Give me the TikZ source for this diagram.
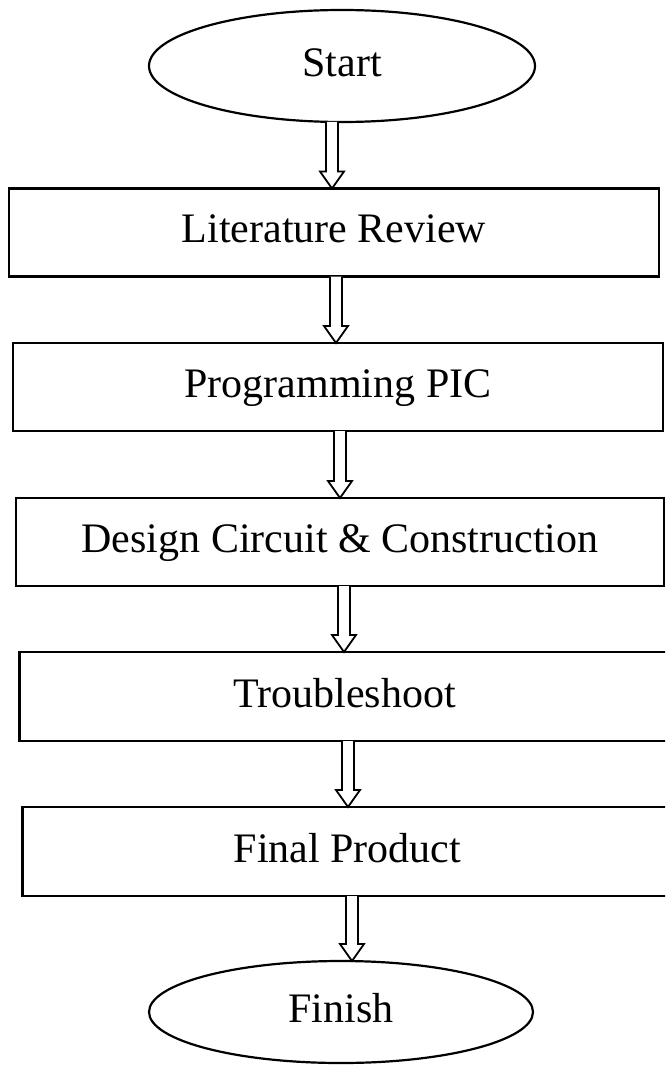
\documentclass[tikz,border=0pt]{standalone}
\usepackage{fontspec}
\setmainfont{Liberation Serif}
\usetikzlibrary{shapes.geometric,calc}
\tikzset{
  lbl/.style={font=\fontsize{42}{50}\selectfont, text height=29pt, text depth=8pt, inner sep=0pt, outer sep=0pt},
  stepbox/.style={lbl, draw, line width=2.2pt, rectangle, minimum height=88pt},
  terminal/.style={lbl, draw, line width=2.2pt, ellipse},
  blockarrow/.style={draw, line width=1.8pt, line join=miter, fill=white}
}
\newcommand\hollowarrow[3]{%
  \draw[blockarrow] let \p1=(#1.south), \p2=(#2.north) in
    ({#3pt-6pt},{\y1}) -- ({#3pt-6pt},{\y2+17pt}) -- ({#3pt-12pt},{\y2+17pt}) --
    ({#3pt},{\y2}) -- ({#3pt+12pt},{\y2+17pt}) -- ({#3pt+6pt},{\y2+17pt}) -- ({#3pt+6pt},{\y1});
}
\begin{document}
\begin{tikzpicture}[x=1pt,y=-1pt]
  \useasboundingbox (0,0) rectangle (665,1067);
  \fill[white] (0,0) rectangle (665,1067);
  \clip (0,0) rectangle (665,1067);

  \node[terminal, minimum width=386pt, minimum height=112pt] (start) at (342,66) {Start};
  \node[stepbox, minimum width=650pt] (lit) at (334,232.5) {Literature Review};
  \node[stepbox, minimum width=650pt] (prog) at (338,387) {Programming PIC};
  \node[stepbox, minimum width=648pt] (design) at (340,542) {Design Circuit \& Construction};
  \node[stepbox, minimum width=650pt, minimum height=89pt] (trouble) at (344.5,696.5) {Troubleshoot};
  \node[stepbox, minimum width=650pt, minimum height=89pt] (final) at (347.5,851.5) {Final Product};
  \node[terminal, minimum width=384pt, minimum height=102pt] (finish) at (341,1012) {Finish};

  \hollowarrow{start}{lit}{332}
  \hollowarrow{lit}{prog}{336}
  \hollowarrow{prog}{design}{340}
  \hollowarrow{design}{trouble}{344}
  \hollowarrow{trouble}{final}{348}
  \hollowarrow{final}{finish}{352}
\end{tikzpicture}
\end{document}
